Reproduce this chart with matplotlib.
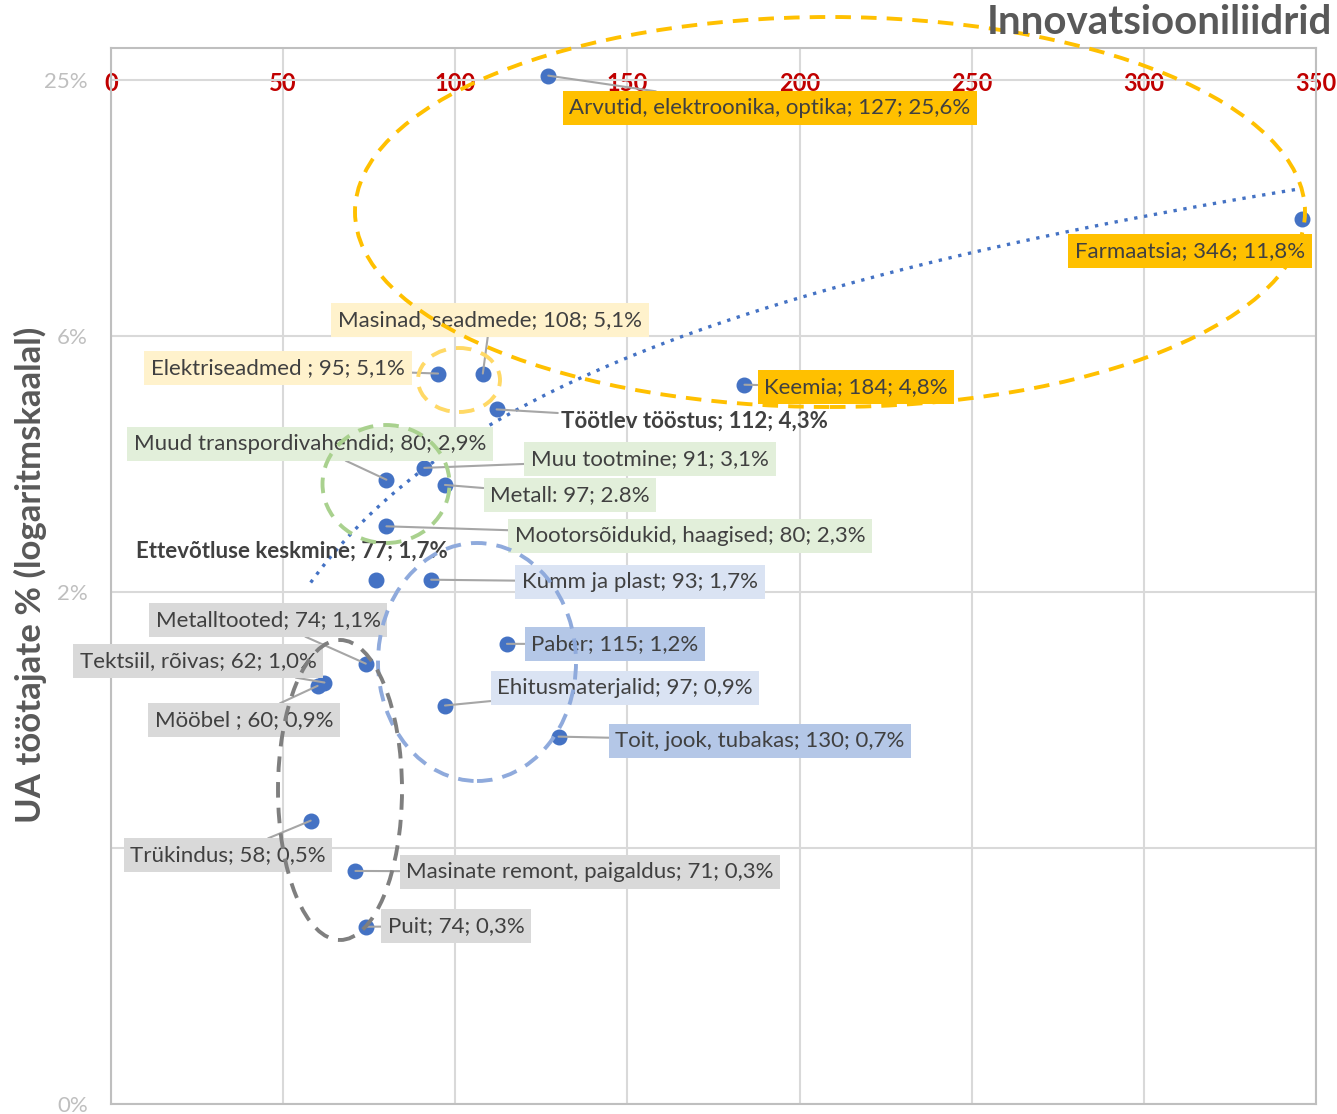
import numpy as np
import matplotlib
matplotlib.use("Agg")
import matplotlib.pyplot as plt
from matplotlib.patches import Ellipse

plt.rcParams['font.family'] = ['Lato', 'DejaVu Sans']

# --- data (x: innovation index, y: R&D staff share %) ---
names = ["Arvutid", "Farmaatsia", "Keemia", "Masinad", "Elektriseadmed", "Töötlev",
         "Muud transp", "Muu tootmine", "Metall", "Mootor", "Keskmine", "Kumm",
         "Paber", "Ehitus", "Toit", "Metalltooted", "Tekstiil", "Mööbel",
         "Trükindus", "Remont", "Puit"]
x_vals = [127, 346, 184, 108, 95, 112, 80, 91, 97, 80, 77, 93,
          115, 97, 130, 74, 62, 60, 58, 71, 74]
y_vals = [25.6, 11.8, 4.8, 5.1, 5.1, 4.2, 2.87, 3.06, 2.79, 2.23, 1.67, 1.67,
          1.18, 0.845, 0.714, 1.06, 0.957, 0.94, 0.453, 0.345, 0.255]
labels = ["Arvutid, elektroonika, optika; 127; 25,6%", "Farmaatsia; 346; 11,8%",
          "Keemia; 184; 4,8%", "Masinad, seadmede; 108; 5,1%", "Elektriseadmed ; 95; 5,1%",
          "Töötlev tööstus; 112; 4,3%", "Muud transpordivahendid; 80; 2,9%",
          "Muu tootmine; 91; 3,1%", "Metall: 97; 2.8%", "Mootorsõidukid, haagised; 80; 2,3%",
          "Ettevõtluse keskmine; 77; 1,7%", "Kumm ja plast; 93; 1,7%", "Paber; 115; 1,2%",
          "Ehitusmaterjalid; 97; 0,9%", "Toit, jook, tubakas; 130; 0,7%",
          "Metalltooted; 74; 1,1%", "Tektsiil, rõivas; 62; 1,0%", "Mööbel ; 60; 0,9%",
          "Trükindus; 58; 0,5%", "Masinate remont, paigaldus; 71; 0,3%", "Puit; 74; 0,3%"]
x_ticks = [0, 50, 100, 150, 200, 250, 300, 350]
y_ticks = [25 / 4 ** k for k in range(5)]
y_ticklabels = ["25%", "6%", "2%", "", "0%"]

# label placement (figure px, from top-left) and box colours
lab_pos = [(770, 108), (1190, 251), (856, 387), (490, 320), (278, 368), (694, 421),
           (310, 444), (650, 459), (570, 495), (690, 536), (292, 551), (640, 582),
           (615, 644), (625, 688), (760, 741), (268, 620), (198, 661), (244, 720),
           (228, 855), (590, 872), (456, 926)]
ORANGE, LORANGE, GREEN, LBLUE, BLUE, GREY = "#FFC000", "#FFF2CC", "#E2EFDA", "#DAE3F3", "#B4C7E7", "#D9D9D9"
lab_fc = [ORANGE, ORANGE, ORANGE, LORANGE, LORANGE, None, GREEN, GREEN, GREEN, GREEN,
          None, LBLUE, BLUE, LBLUE, BLUE, GREY, GREY, GREY, GREY, GREY, GREY]
leader = [True, False, True, True, True, True, True, True, True, True,
          False, True, True, True, True, True, True, True, True, True, True]

W, H = 1337, 1114
fig = plt.figure(figsize=(W / 100, H / 100), dpi=100)
L, R, T, B = 111, 1316, 48, 1104
ax = fig.add_axes([L / W, (H - B) / H, (R - L) / W, (B - T) / H])

ax.set_yscale('log')
ax.set_xlim(0, 350)
ax.set_ylim(25 / 256, 25 * 4 ** (32 / 256))
ax.set_xticks(x_ticks)
ax.set_xticklabels([str(v) for v in x_ticks])
ax.set_yticks(y_ticks)
ax.set_yticklabels(y_ticklabels)
ax.yaxis.set_minor_locator(matplotlib.ticker.NullLocator())
ax.tick_params(axis='x', top=False, bottom=False, labeltop=True, labelbottom=False,
               pad=-37, labelsize=17, labelcolor="#C00000")
ax.tick_params(axis='y', left=False, labelsize=16, labelcolor="#BFBFBF", pad=13)
for tk in ax.xaxis.get_major_ticks():
    tk.label2.set_fontweight('bold')
ax.grid(True, color="#D9D9D9", lw=1.5)
ax.set_axisbelow(True)
for s in ax.spines.values():
    s.set_color("#BFBFBF")
    s.set_linewidth(1.5)

# linear trendline
xs = np.array(x_vals, float)
ys = np.array(y_vals, float)
k, c0 = np.polyfit(xs, ys, 1)
xt = np.linspace(xs.min(), xs.max(), 200)
ax.plot(xt, c0 + k * xt, ls=(0, (1, 2)), color="#4472C4", lw=2.4, zorder=2)

ax.scatter(xs, ys, s=110, color="#4472C4", zorder=4)

inv = ax.transData.inverted()
for xv, yv, txt, (px, py), fc, ld in zip(x_vals, y_vals, labels, lab_pos, lab_fc, leader):
    tx, ty = inv.transform((px, H - py))
    kw = dict(fontsize=16, color="#404040", ha='center', va='center', zorder=5)
    if fc is None:
        kw['fontweight'] = 'bold'
    else:
        kw['bbox'] = dict(boxstyle='square,pad=0.3', fc=fc, ec='none')
    if ld:
        kw['arrowprops'] = dict(arrowstyle='-', color="#A6A6A6", lw=1.5, shrinkA=0, shrinkB=0)
    ax.annotate(txt, xy=(xv, yv), xytext=(tx, ty), **kw)

# group ellipses (figure px centre, width, height)
ellipses = [((830, 212), 950, 390, "#FFC000"),
            ((459, 380), 82, 64, "#FFD966"),
            ((386, 484), 127, 118, "#A9D18E"),
            ((477, 662), 198, 238, "#8FAADC"),
            ((340, 790), 124, 300, "#7F7F7F")]
for (cx, cy), w, h, c in ellipses:
    e = Ellipse((cx, H - cy), w, h, transform=None, fill=False,
                ec=c, lw=2.8, ls=(0, (4, 2.6)), zorder=3, clip_on=False)
    fig.add_artist(e)

fig.text(1332 / W, 1 - 22 / H, "Innovatsiooniliidrid", ha='right', va='center',
         fontsize=29, fontweight='bold', color="#595959")
fig.text(30 / W, 1 - 575 / H, "UA töötajate % (logaritmskaalal)", rotation=90,
         ha='center', va='center', fontsize=25, fontweight='bold', color="#595959")

fig.savefig("out.png", dpi=100)
